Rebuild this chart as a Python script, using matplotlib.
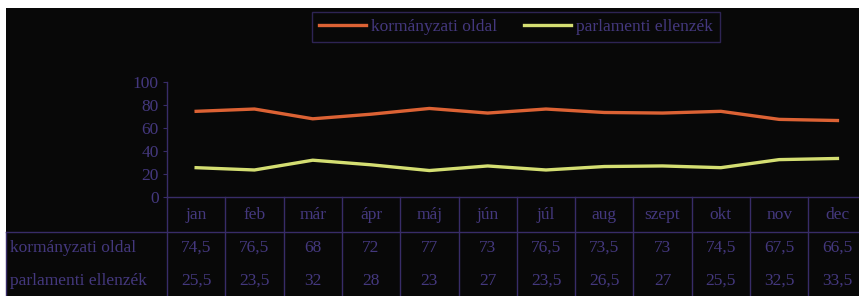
import numpy as np
import matplotlib
matplotlib.use("Agg")
import matplotlib.pyplot as plt
from matplotlib.patches import Rectangle
from matplotlib.lines import Line2D

months = ["jan", "feb", "már", "ápr", "máj", "jún", "júl", "aug", "szept", "okt", "nov", "dec"]
kormany = [74.5, 76.5, 68, 72, 77, 73, 76.5, 73.5, 73, 74.5, 67.5, 66.5]
parlament = [25.5, 23.5, 32, 28, 23, 27, 23.5, 26.5, 27, 25.5, 32.5, 33.5]
series_names = ["kormányzati oldal", "parlamenti ellenzék"]

W, H = 859, 296
txt = "#44387e"
grid = "#382c68"
bg = "#080808"
c_korm = "#dc6234"
c_parl = "#d4de72"
fs = 12.5

plt.rcParams["font.family"] = "serif"
plt.rcParams["font.serif"] = ["Liberation Serif", "DejaVu Serif"]

fig = plt.figure(figsize=(W / 100, H / 100), dpi=100, facecolor="white")
fig.patches.append(Rectangle((6 / W, 0), 1, (H - 8) / H, transform=fig.transFigure,
                             facecolor=bg, edgecolor="none", zorder=-10))

# plot area in pixels
x0, x1 = 167, 167 + 12 * 58.3
ytop, ybot = 82, 197
ax = fig.add_axes([x0 / W, (H - ybot) / H, (x1 - x0) / W, (ybot - ytop) / H])
ax.set_facecolor("none")
x = np.arange(len(months))
ax.plot(x, kormany, color=c_korm, lw=2.4, label=series_names[0])
ax.plot(x, parlament, color=c_parl, lw=2.4, label=series_names[1])
ax.set_xlim(-0.5, 11.5)
ax.set_ylim(0, 100)
ax.set_yticks([0, 20, 40, 60, 80, 100])
ax.tick_params(axis="y", labelcolor=txt, color=grid, labelsize=fs,
               length=3, width=0.8, pad=3)
ax.set_xticks([])
for s in ["top", "right"]:
    ax.spines[s].set_visible(False)
ax.spines["left"].set_color(grid)
ax.spines["bottom"].set_color(grid)
ax.spines["left"].set_linewidth(1)
ax.spines["bottom"].set_linewidth(1)

# table below the axes
ph = ybot - ytop
tr = ax.get_xaxis_transform()
def ay(py):
    return (ybot - py) / ph
for i in range(13):
    ax.add_line(Line2D([i - 0.5, i - 0.5], [ay(197), ay(296)], transform=tr,
                       color=grid, lw=1, clip_on=False))
fig.add_artist(Line2D([6 / W, 1], [(H - 232) / H] * 2, color=grid, lw=1))
fig.add_artist(Line2D([6 / W, 6 / W], [0, (H - 232) / H], color=grid, lw=1))
for i, m in enumerate(months):
    ax.text(i, ay(215), m, transform=tr, ha="center", va="center", color=txt,
            fontsize=fs, clip_on=False)
    ax.text(i, ay(248), f"{kormany[i]:g}".replace(".", ","), transform=tr,
            ha="center", va="center", color=txt, fontsize=fs, clip_on=False)
    ax.text(i, ay(281), f"{parlament[i]:g}".replace(".", ","), transform=tr,
            ha="center", va="center", color=txt, fontsize=fs, clip_on=False)
fig.text(10 / W, (H - 248) / H, series_names[0], color=txt, fontsize=fs, va="center")
fig.text(10 / W, (H - 281) / H, series_names[1], color=txt, fontsize=fs, va="center")

leg = fig.legend(loc="center", bbox_to_anchor=(516 / W, (H - 27) / H), ncol=2,
                 frameon=True, fancybox=False, facecolor=bg, edgecolor=grid,
                 fontsize=fs, handlelength=2.7, columnspacing=1.5,
                 borderpad=0.4, handletextpad=0.3)
leg.get_frame().set_linewidth(1)
for t in leg.get_texts():
    t.set_color(txt)

fig.savefig("out.png", dpi=100, facecolor="white")
